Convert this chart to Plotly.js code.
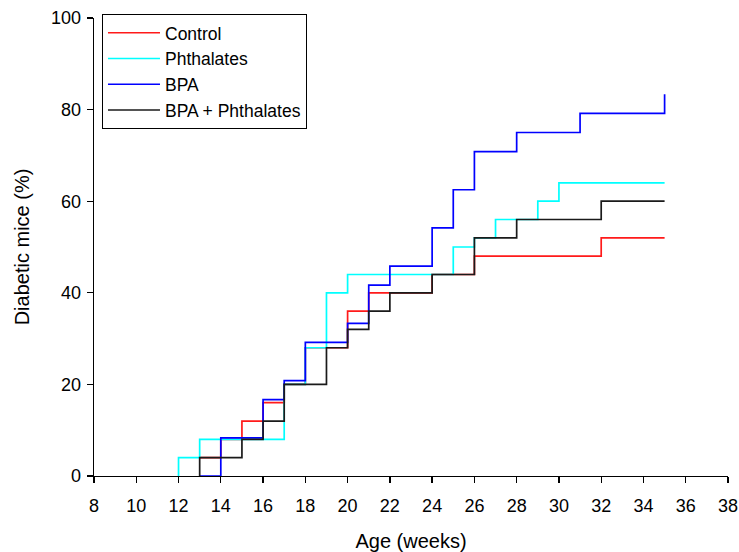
<!DOCTYPE html>
<html>
<head>
<meta charset="utf-8">
<script src="https://cdn.plot.ly/plotly-3.0.1.min.js"></script>
<style>
html, body { margin: 0; padding: 0; background: #fff; }
#chart { width: 739px; height: 552px; }
</style>
</head>
<body>
<div id="chart"></div>
<script>
// Age (weeks) at which each step occurs, and cumulative % diabetic mice
var controlWeeks = [13, 14, 15, 16, 17, 18, 20, 21, 24, 26, 32, 35];
var controlPct   = [4, 8, 12, 16, 20, 28, 36, 40, 44, 48, 52, 52];

var phthalatesWeeks = [12, 12, 13, 17, 18, 19, 20, 25, 26, 27, 29, 30, 35];
var phthalatesPct   = [0, 4, 8, 20, 28, 40, 44, 50, 52, 56, 60, 64, 64];

var bpaWeeks = [13, 14, 16, 17, 18, 20, 21, 22, 24, 25, 26, 28, 31, 35];
var bpaPct   = [0, 8.33, 16.67, 20.83, 29.17, 33.33, 41.67, 45.83, 54.17, 62.5, 70.83, 75, 79.17, 83.33];

var comboWeeks = [13, 13, 15, 16, 17, 19, 20, 21, 22, 24, 26, 28, 32, 35];
var comboPct   = [0, 4, 8, 12, 20, 28, 32, 36, 40, 44, 52, 56, 60, 60];

var seriesNames = ["Control", "Phthalates", "BPA", "BPA + Phthalates"];
var seriesColors = ["#ff1a1a", "#00ffff", "#0000ff", "#1a1a1a"];

var xTicks = [8, 10, 12, 14, 16, 18, 20, 22, 24, 26, 28, 30, 32, 34, 36, 38];
var yTicks = [0, 20, 40, 60, 80, 100];

var xs = [controlWeeks, phthalatesWeeks, bpaWeeks, comboWeeks];
var ys = [controlPct, phthalatesPct, bpaPct, comboPct];

var traces = xs.map(function (x, i) {
  return {
    x: x,
    y: ys[i],
    type: "scatter",
    mode: "lines",
    name: seriesNames[i],
    line: { shape: "hv", color: seriesColors[i], width: 1.7 }
  };
});

var FONT = "Liberation Sans, Arial, Helvetica, sans-serif";

var layout = {
  width: 739,
  height: 552,
  margin: { l: 94, r: 11, t: 18, b: 76 },
  paper_bgcolor: "#ffffff",
  plot_bgcolor: "#ffffff",
  font: { family: FONT, color: "#000000", size: 17 },
  showlegend: true,
  legend: {
    x: 0.0126, y: 1.009, xanchor: "left", yanchor: "top",
    bgcolor: "#ffffff", bordercolor: "#000000", borderwidth: 1,
    font: { family: FONT, size: 17.5, color: "#000000" },
    itemwidth: 52,
    tracegroupgap: 0
  },
  xaxis: {
    range: [8, 38],
    tickvals: xTicks,
    ticktext: xTicks.map(String),
    showgrid: false,
    zeroline: false,
    showline: true,
    linecolor: "#000000",
    linewidth: 1.3,
    ticks: "outside",
    ticklen: 6,
    tickwidth: 1.3,
    tickcolor: "#000000",
    ticklabelstandoff: 7,
    tickfont: { family: FONT, size: 18, color: "#000000" },
    title: { text: "Age (weeks)", font: { family: FONT, size: 20, color: "#000000" }, standoff: 20 },
    automargin: false
  },
  yaxis: {
    range: [0, 100],
    tickvals: yTicks,
    ticktext: yTicks.map(String),
    showgrid: false,
    zeroline: false,
    showline: true,
    linecolor: "#000000",
    linewidth: 1.3,
    ticks: "outside",
    ticklen: 6,
    tickwidth: 1.3,
    tickcolor: "#000000",
    ticklabelstandoff: 2,
    tickfont: { family: FONT, size: 18, color: "#000000" },
    title: { text: "Diabetic mice (%)", font: { family: FONT, size: 20, color: "#000000" }, standoff: 16 },
    automargin: false
  }
};

Plotly.newPlot("chart", traces, layout, { displayModeBar: false, staticPlot: true });
</script>
</body>
</html>
